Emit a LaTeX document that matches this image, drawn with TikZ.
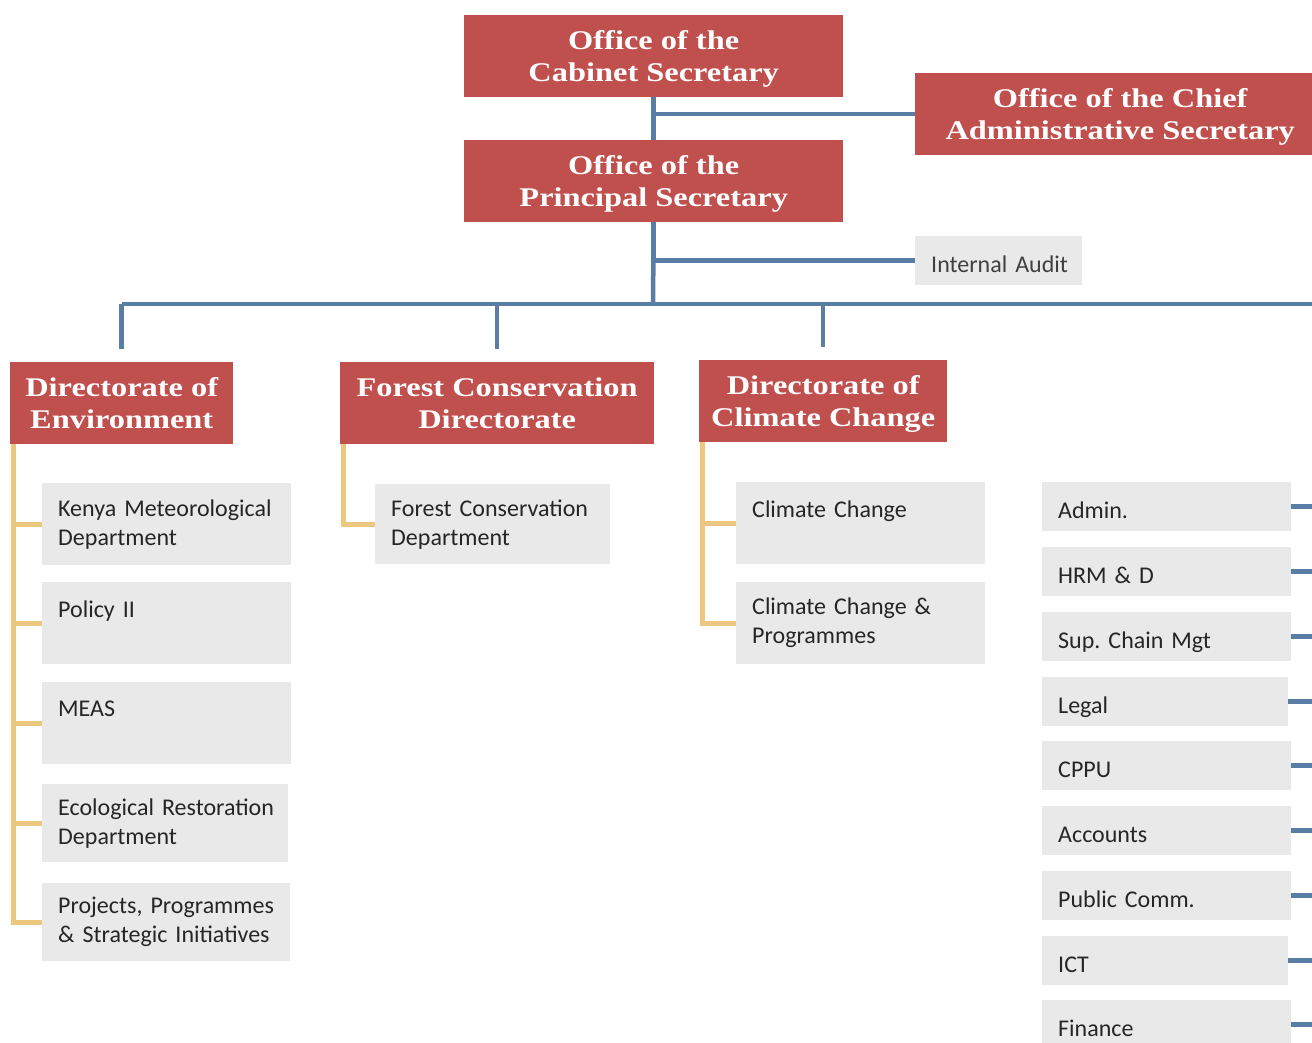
\documentclass[tikz,border=0pt]{standalone}
\usepackage{fontspec}
\setmainfont{Carlito}
\newfontfamily\headfont[FakeStretch=1.2]{Liberation Serif}
\frenchspacing
\hyphenpenalty=10000

\definecolor{headred}{HTML}{C0504D}
\definecolor{linkblue}{HTML}{5A7DA5}
\definecolor{branchgold}{HTML}{EBC77F}
\definecolor{unitgray}{HTML}{E9E9E9}

\tikzset{
	head/.style={fill=headred, text=white, anchor=north west, align=center,
		font=\headfont\bfseries\fontsize{27}{32}\selectfont,
		minimum height=82pt, inner sep=0pt, text depth=0pt},
	unit/.style={fill=unitgray, text=black!85, anchor=north west, align=left,
		font=\fontsize{24}{29}\selectfont, inner xsep=16pt, inner ysep=0pt,
		minimum height=82pt, text width=217pt},
	tab/.style={unit, minimum height=49pt, text height=23pt, text depth=0pt},
	link/.style={draw=linkblue, line width=4.5pt},
	branch/.style={draw=branchgold, line width=5pt}
}

\begin{document}
\begin{tikzpicture}[x=1pt, y=-1pt]
	\useasboundingbox (0,0) rectangle (1312,1043);
	\clip (0,0) rectangle (1312,1043);
	\coordinate (edge) at (1312,0);
	\coordinate (bus) at (653,304);

	% offices
	\node[head, minimum width=379pt] (cs) at (464,15) {Office of the\\Cabinet Secretary};
	\node[head, minimum width=410pt] (cas) at (915,73) {Office of the Chief\\Administrative Secretary};
	\node[head, minimum width=379pt] (ps) at (464,140) {Office of the\\Principal Secretary};
	\node[tab, text width=135pt, text=black!75] (ia) at (915,236) {Internal~Audit};

	% directorates
	\node[head, minimum width=223pt] (env) at (10,362) {Directorate of\\Environment};
	\node[head, minimum width=314pt] (fcd) at (340,362) {Forest Conservation\\Directorate};
	\node[head, minimum width=248pt] (dcc) at (699,360) {Directorate of\\Climate Change};

	% departments under environment
	\node[unit] (kmd) at (42,483) {Kenya~Meteorological\\Department};
	\node[unit] (pol) at (42,582) {Policy II\\\mbox{}};
	\node[unit] (meas) at (42,682) {MEAS\\\mbox{}};
	\node[unit, text width=214pt, minimum height=78pt] (erd) at (42,784) {Ecological~Restoration\\Department};
	\node[unit, text width=216pt, minimum height=78pt] (ppsi) at (42,883) {Projects,~Programmes\\\&~Strategic~Initiatives};

	\node[unit, text width=203pt, minimum height=80pt] (fcdept) at (375,484) {Forest~Conservation\\Department};

	\node[unit] (cc) at (736,482) {Climate Change\\\mbox{}};
	\node[unit] (ccp) at (736,582) {Climate~Change~\&\\Programmes};

	% support units
	\node[tab] (adm) at (1042,482) {Admin.};
	\node[tab] (hrm) at (1042,547) {HRM \& D};
	\node[tab] (scm) at (1042,612) {Sup. Chain Mgt};
	\node[tab, text width=214pt] (leg) at (1042,677) {Legal};
	\node[tab, text width=217pt] (cppu) at (1042,741) {CPPU};
	\node[tab] (acc) at (1042,806) {Accounts};
	\node[tab] (pub) at (1042,871) {Public Comm.};
	\node[tab, text width=214pt] (ict) at (1042,936) {ICT};
	\node[tab, text width=217pt] (fin) at (1042,1000) {Finance};

	% blue links
	\draw[link] (cs.south) -- (ps.north);
	\draw[link] (cas.west) -| (cs.south);
	\draw[link] (ia.west) -| (ps.south);
	\draw[link] (ps.south) -- (bus);
	\draw[link] (env.north |- bus) -- (bus -| edge);
	\foreach \d in {env,fcd,dcc}
		\draw[link, shorten >=13pt] (\d.north |- bus) -- (\d.north);
	\foreach \u in {adm,hrm,scm,leg,cppu,acc,pub,ict,fin}
		\draw[link] (\u.east) -- (\u.east -| edge);

	% gold branches
	\foreach \u in {kmd,pol,meas,erd,ppsi}
		\draw[branch] ([xshift=3pt]env.south west) |- (\u.west);
	\draw[branch] ([xshift=3pt]fcd.south west) |- (fcdept.west);
	\foreach \u in {cc,ccp}
		\draw[branch] ([xshift=3pt]dcc.south west) |- (\u.west);
\end{tikzpicture}
\end{document}
